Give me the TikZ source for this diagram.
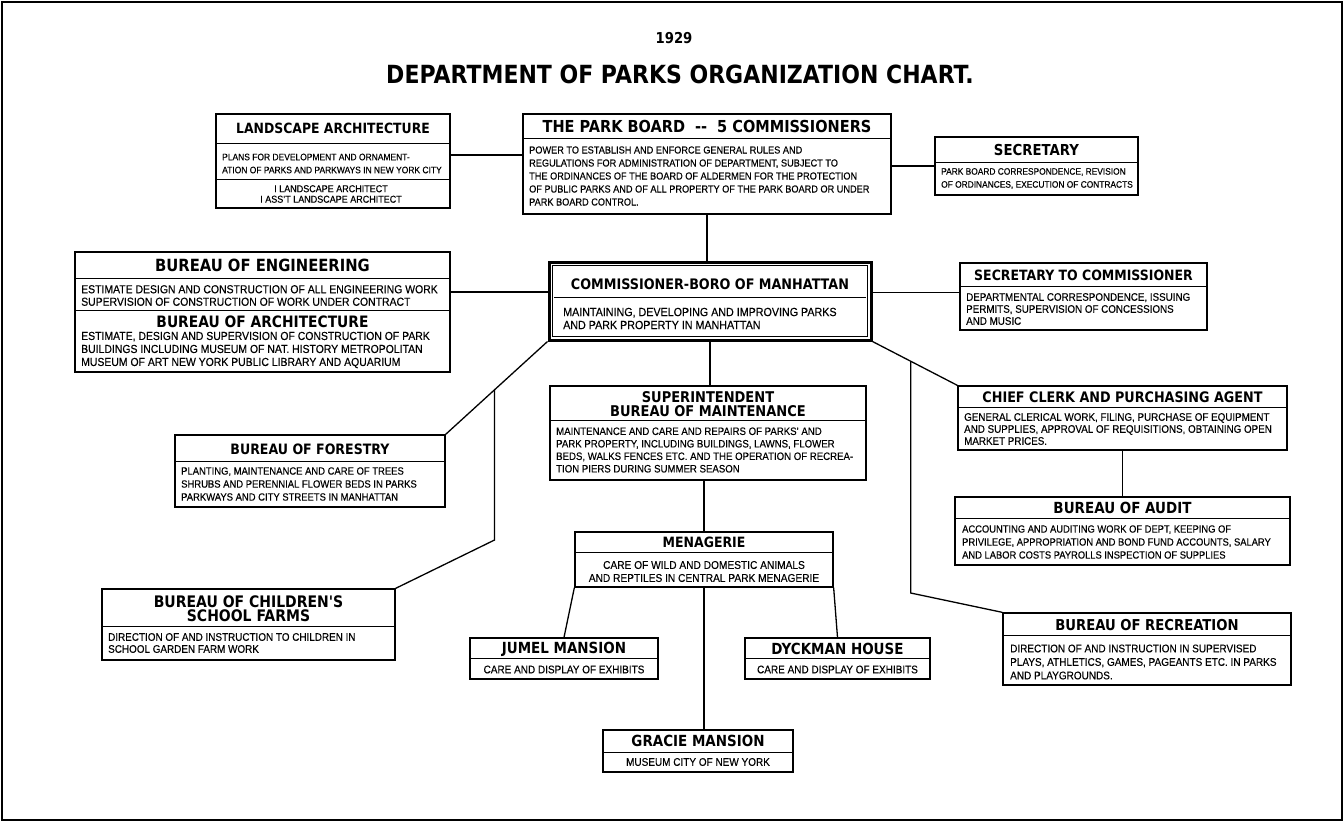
\documentclass[tikz,border=0pt]{standalone}
\usepackage{fontspec}
\setmainfont{Liberation Sans}[FakeStretch=0.9,FakeBold=0.3]
\newfontfamily\hdfont{DejaVu Sans}[FakeStretch=0.88]
\usetikzlibrary{calc}
\newcommand{\fs}[2]{\fontsize{#1}{#2}\selectfont}
\tikzset{
  box/.style={draw, line width=1.3pt, inner sep=0pt},
  hd/.style={inner sep=0pt, align=center, font=\hdfont\bfseries\fs{#1}{14}},
  bd/.style 2 args={inner sep=0pt, align=left, anchor=west, font=\fs{#1}{#2}},
  rule/.style={line width=0.9pt},
  link/.style={line width=1.3pt}
}
\begin{document}
\begin{tikzpicture}[x=1pt,y=-1pt]
\useasboundingbox (0,0) rectangle (1344,822);
\draw[line width=1.5pt] (2,2) rectangle (1342,820);
% title
\node[hd=15] (year) at (674,38) {1929};
\node[hd=25] (title) at (680,74) {DEPARTMENT OF PARKS ORGANIZATION CHART.};
% landscape architecture
\node[box, minimum width=234, minimum height=94] (land) at (333,161) {};
\node[hd=14.1] (landH) at (333,128) {LANDSCAPE ARCHITECTURE};
\draw[rule] (land.west |- 0,143) -- (land.east |- 0,143);
\node[bd={9.4}{13}] (landB) at (222,163.5) {PLANS FOR DEVELOPMENT AND ORNAMENT-\\ATION OF PARKS AND PARKWAYS IN NEW YORK CITY};
\draw[rule] (land.west |- 0,179) -- (land.east |- 0,179);
\node[bd={10}{10.5}, align=center, anchor=center] (landS) at (331,194) {I LANDSCAPE ARCHITECT\\I ASS'T LANDSCAPE ARCHITECT};
% park board
\node[box, minimum width=368, minimum height=100] (board) at (707,164) {};
\node[hd=16.5] (boardH) at (707,126) {THE PARK BOARD\hspace{10pt}--\hspace{10pt}5 COMMISSIONERS};
\draw[rule] (board.west |- 0,138) -- (board.east |- 0,138);
\node[bd={10.2}{13}] (boardB) at (529,176) {POWER TO ESTABLISH AND ENFORCE GENERAL RULES AND\\REGULATIONS FOR ADMINISTRATION OF DEPARTMENT, SUBJECT TO\\THE ORDINANCES OF THE BOARD OF ALDERMEN FOR THE PROTECTION\\OF PUBLIC PARKS AND OF ALL PROPERTY OF THE PARK BOARD OR UNDER\\PARK BOARD CONTROL.};
% secretary
\node[box, minimum width=203, minimum height=58] (sec) at (1036.5,166) {};
\node[hd=15.1] (secH) at (1036.5,150) {SECRETARY};
\draw[rule] (sec.west |- 0,162) -- (sec.east |- 0,162);
\node[bd={9.3}{13}] (secB) at (941,178.5) {PARK BOARD CORRESPONDENCE, REVISION\\OF ORDINANCES, EXECUTION OF CONTRACTS};
% engineering and architecture
\node[box, minimum width=375, minimum height=120] (eng) at (262.5,312) {};
\node[hd=16.8] (engH) at (262.5,265) {BUREAU OF ENGINEERING};
\draw[rule] (eng.west |- 0,278) -- (eng.east |- 0,278);
\node[bd={11.6}{12.5}] (engB) at (81,295.5) {ESTIMATE DESIGN AND CONSTRUCTION OF ALL ENGINEERING WORK\\SUPERVISION OF CONSTRUCTION OF WORK UNDER CONTRACT};
\draw[rule] (eng.west |- 0,310) -- (eng.east |- 0,310);
\node[hd=15.7] (archH) at (262.5,322) {BUREAU OF ARCHITECTURE};
\node[bd={11.6}{13}] (archB) at (81,350) {ESTIMATE, DESIGN AND SUPERVISION OF CONSTRUCTION OF PARK\\BUILDINGS INCLUDING MUSEUM OF NAT. HISTORY METROPOLITAN\\MUSEUM OF ART NEW YORK PUBLIC LIBRARY AND AQUARIUM};
% commissioner
\node[box, line width=3pt, minimum width=322, minimum height=78] (comm) at (710,301) {};
\draw[line width=1.2pt] ([xshift=5pt,yshift=-5pt]comm.north west) rectangle ([xshift=-5pt,yshift=5pt]comm.south east);
\node[hd=14.5] (commH) at (710,284) {COMMISSIONER-BORO OF MANHATTAN};
\draw[rule] (554,297) -- (866,297);
\node[bd={11.9}{13}] (commB) at (563,318.5) {MAINTAINING, DEVELOPING AND IMPROVING PARKS\\AND PARK PROPERTY IN MANHATTAN};
% secretary to commissioner
\node[box, minimum width=247, minimum height=67] (sec2) at (1083.5,296.5) {};
\node[hd=14.2] (sec2H) at (1083.5,275) {SECRETARY TO COMMISSIONER};
\draw[rule] (sec2.west |- 0,286) -- (sec2.east |- 0,286);
\node[bd={10.9}{12}] (sec2B) at (966,309) {DEPARTMENTAL CORRESPONDENCE, ISSUING\\PERMITS, SUPERVISION OF CONCESSIONS\\AND MUSIC};
% superintendent
\node[box, minimum width=316, minimum height=94] (supt) at (708,433) {};
\node[hd=14.8] (suptH) at (708,404) {SUPERINTENDENT\\BUREAU OF MAINTENANCE};
\draw[rule] (supt.west |- 0,420) -- (supt.east |- 0,420);
\node[bd={10.7}{12.5}] (suptB) at (556,450) {MAINTENANCE AND CARE AND REPAIRS OF PARKS' AND\\PARK PROPERTY, INCLUDING BUILDINGS, LAWNS, FLOWER\\BEDS, WALKS FENCES ETC. AND THE OPERATION OF RECREA-\\TION PIERS DURING SUMMER SEASON};
% chief clerk
\node[box, minimum width=329, minimum height=64] (clerk) at (1122.5,418) {};
\node[hd=14.5] (clerkH) at (1122.5,397) {CHIEF CLERK AND PURCHASING AGENT};
\draw[rule] (clerk.west |- 0,407) -- (clerk.east |- 0,407);
\node[bd={10.9}{12}] (clerkB) at (964,429) {GENERAL CLERICAL WORK, FILING, PURCHASE OF EQUIPMENT\\AND SUPPLIES, APPROVAL OF REQUISITIONS, OBTAINING OPEN\\MARKET PRICES.};
% audit
\node[box, minimum width=335, minimum height=68] (audit) at (1122.5,531) {};
\node[hd=15.3] (auditH) at (1122.5,508) {BUREAU OF AUDIT};
\draw[rule] (audit.west |- 0,518) -- (audit.east |- 0,518);
\node[bd={10.4}{13}] (auditB) at (962,542) {ACCOUNTING AND AUDITING WORK OF DEPT, KEEPING OF\\PRIVILEGE, APPROPRIATION AND BOND FUND ACCOUNTS, SALARY\\AND LABOR COSTS PAYROLLS INSPECTION OF SUPPLIES};
% recreation
\node[box, minimum width=288, minimum height=72] (recr) at (1147,649) {};
\node[hd=15] (recrH) at (1147,625) {BUREAU OF RECREATION};
\draw[rule] (recr.west |- 0,635) -- (recr.east |- 0,635);
\node[bd={11.1}{13.5}] (recrB) at (1010,662) {DIRECTION OF AND INSTRUCTION IN SUPERVISED\\PLAYS, ATHLETICS, GAMES, PAGEANTS ETC. IN PARKS\\AND PLAYGROUNDS.};
% forestry
\node[box, minimum width=270, minimum height=72] (forest) at (310,471) {};
\node[hd=14.3] (forestH) at (310,449) {BUREAU OF FORESTRY};
\draw[rule] (forest.west |- 0,461) -- (forest.east |- 0,461);
\node[bd={10.5}{13}] (forestB) at (181,484) {PLANTING, MAINTENANCE AND CARE OF TREES\\SHRUBS AND PERENNIAL FLOWER BEDS IN PARKS\\PARKWAYS AND CITY STREETS IN MANHATTAN};
% children's school farms
\node[box, minimum width=293, minimum height=71] (children) at (248.5,624.5) {};
\node[hd=15.9] (childrenH) at (248.5,609) {BUREAU OF CHILDREN'S\\SCHOOL FARMS};
\draw[rule] (children.west |- 0,626) -- (children.east |- 0,626);
\node[bd={11}{12}] (childrenB) at (108,643) {DIRECTION OF AND INSTRUCTION TO CHILDREN IN\\SCHOOL GARDEN FARM WORK};
% menagerie
\node[box, minimum width=258, minimum height=55] (menag) at (704,559.5) {};
\node[hd=14.2] (menagH) at (704,542) {MENAGERIE};
\draw[rule] (menag.west |- 0,552) -- (menag.east |- 0,552);
\node[bd={11.3}{13}, align=center, anchor=center] (menagB) at (704,571.5) {CARE OF WILD AND DOMESTIC ANIMALS\\AND REPTILES IN CENTRAL PARK MENAGERIE};
% jumel mansion
\node[box, minimum width=188, minimum height=41] (jumel) at (564,658.5) {};
\node[hd=15.3] (jumelH) at (564,649) {JUMEL MANSION};
\draw[rule] (jumel.west |- 0,658) -- (jumel.east |- 0,658);
\node[bd={11.1}{12}, anchor=center] (jumelB) at (564,669.5) {CARE AND DISPLAY OF EXHIBITS};
% dyckman house
\node[box, minimum width=185, minimum height=41] (dyck) at (837.5,658.5) {};
\node[hd=15.3] (dyckH) at (837.5,649) {DYCKMAN HOUSE};
\draw[rule] (dyck.west |- 0,658) -- (dyck.east |- 0,658);
\node[bd={11.1}{12}, anchor=center] (dyckB) at (837.5,669.5) {CARE AND DISPLAY OF EXHIBITS};
% gracie mansion
\node[box, minimum width=190, minimum height=42] (gracie) at (698,751) {};
\node[hd=15.3] (gracieH) at (698,741) {GRACIE MANSION};
\draw[rule] (gracie.west |- 0,752) -- (gracie.east |- 0,752);
\node[bd={11.1}{12}, anchor=center] (gracieB) at (698,762) {MUSEUM CITY OF NEW YORK};
% connectors
\coordinate (landC) at ([yshift=6pt]land.east);
\draw[link] (landC) -- (landC -| board.west);
\draw[link] (sec.west) -- (sec.west -| board.east);
\draw[link] (board.south) -- (board.south |- comm.north);
\coordinate (engC) at ([yshift=9pt]comm.west);
\draw[link] (engC) -- (engC -| eng.east);
\coordinate (sec2C) at ([yshift=4pt]sec2.west);
\draw[link] (sec2C) -- (sec2C -| comm.east);
\draw[link] (comm.south) -- (comm.south |- supt.north);
\draw[link] (comm.south west) -- (forest.north east);
\coordinate (fjoin) at ($(comm.south west)!0.52!(forest.north east)$);
\coordinate (fbend) at (495,540);
\draw[link] (fjoin) -- (fjoin |- fbend) -- (children.north east);
\draw[link] (comm.south east) -- (clerk.north west);
\coordinate (cjoin) at ($(comm.south east)!0.45!(clerk.north west)$);
\coordinate (cbend) at (910,593);
\draw[link] (cjoin) -- (cjoin |- cbend) -- (recr.north west);
\draw[link] (clerk.south) -- (clerk.south |- audit.north);
\draw[link] (menag.north |- supt.south) -- (menag.north);
\draw[link] (menag.south west) -- (jumel.north);
\draw[link] (menag.south east) -- (dyck.north);
\draw[link] (menag.south) -- (menag.south |- gracie.north);
\end{tikzpicture}
\end{document}
